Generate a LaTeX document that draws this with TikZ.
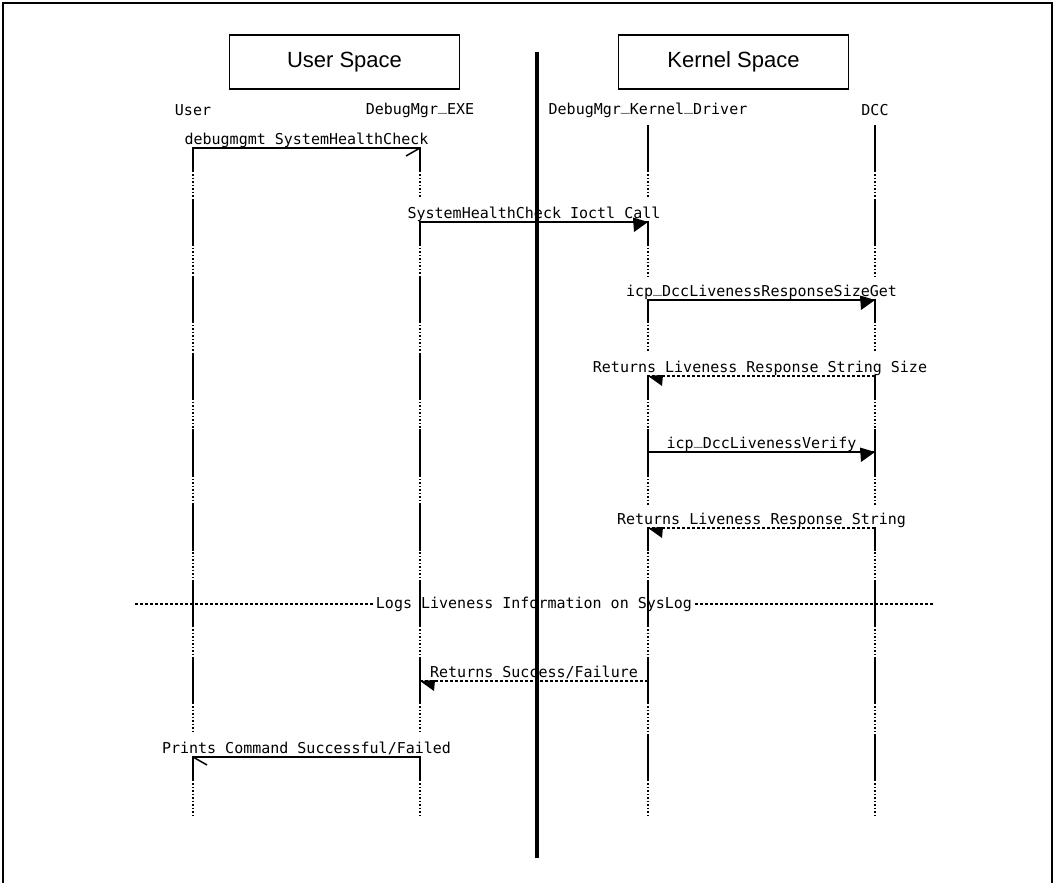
\documentclass[tikz,border=0pt]{standalone}
\usepackage{fontspec}
\setmainfont{Liberation Sans}
\newfontfamily\monof{DejaVu Sans Mono}
\newcommand\usc{\raisebox{0.22em}{\_}}
\begin{document}
\begin{tikzpicture}[x=1pt,y=-1pt,
  spacebox/.style={draw,line width=1.2pt,minimum width=230pt,minimum height=54pt,font=\fontsize{22}{22}\selectfont},
  head/.style={font=\monof\fontsize{15}{15}\selectfont,inner sep=0pt},
  lbl/.style={font=\monof\fontsize{15}{15}\selectfont,inner xsep=0pt,inner ysep=0pt,text height=19pt,text depth=3pt,anchor=base,fill=white},
  dotline/.style={line width=1.2pt,dash pattern=on 1.5pt off 2pt},
  solidline/.style={line width=1.5pt},
  msg/.style={line width=1.5pt},
  ret/.style={line width=1.2pt,dash pattern=on 3pt off 2pt},
  frame/.style={line width=2pt}]
\useasboundingbox (0,0) rectangle (1055,883);
% frame
\draw[frame] (3,883) -- (3,3) -- (1052,3) -- (1052,883);
% boxes
\node[spacebox] (us) at (344.5,62) {User Space};
\node[spacebox] (ks) at (733.5,62) {Kernel Space};
% heads
\node[head] (uH) at (193,110) {User};
\node[head] (eH) at (420,110) {DebugMgr\usc EXE};
\node[head] (kH) at (648,110) {DebugMgr\usc Kernel\usc Driver};
\node[head] (dH) at (875,110) {DCC};
% divider (drawn below the lifelines)
\coordinate (dvL) at (135,604);
\coordinate (dvR) at (933,604);
\draw[ret] (dvL) -- (dvR);
\node[lbl,anchor=center,text height=11pt,text depth=3pt,inner xsep=2pt,inner ysep=1pt] (l7) at (534,604) {Logs Liveness Information on SysLog};
% lifelines
\foreach \n/\x in {u/193,e/420,k/648,d/875}{
  \coordinate (\n T) at (\x,125);
  \coordinate (\n B) at (\x,815);
  \draw[dotline] (\n T) -- (\n B);
  \foreach \y in {148,222,300,376,452,528,604,681,757}{
    \draw[solidline] (\x,\y-23) -- (\x,\y+23);
  }
}
% message coordinates
\coordinate (m1s) at (193,148); \coordinate (m1e) at (420,148);
\coordinate (m2s) at (420,222); \coordinate (m2e) at (648,222);
\coordinate (m3s) at (648,300); \coordinate (m3e) at (875,300);
\coordinate (m4s) at (875,376); \coordinate (m4e) at (648,376);
\coordinate (m5s) at (648,452); \coordinate (m5e) at (875,452);
\coordinate (m6s) at (875,528); \coordinate (m6e) at (648,528);
\coordinate (m8s) at (648,681); \coordinate (m8e) at (420,681);
\coordinate (m9s) at (420,757); \coordinate (m9e) at (193,757);
% labels (white background hides the lifelines behind them)
\node[lbl] (l1) at (306.5,144) {debugmgmt SystemHealthCheck};
\node[lbl] (l2) at (534,218) {SystemHealthCheck Ioctl Call};
\node[lbl] (l3) at (761.5,296) {icp\usc DccLivenessResponseSizeGet};
\node[lbl] (l4) at (760,372) {Returns Liveness Response String Size};
\node[lbl] (l5) at (761.5,448) {icp\usc DccLivenessVerify};
\node[lbl] (l6) at (761.5,524) {Returns Liveness Response String};
\node[lbl] (l8) at (534,677) {Returns Success/Failure};
\node[lbl] (l9) at (306.5,753) {Prints Command Successful/Failed};
% 1
\draw[msg] (m1s) -- (m1e);
\draw[msg,shift={(m1e)}] (0,0) -- (-14,8);
% 2
\draw[msg] (m2s) -- (m2e);
\fill[shift={(m2e)}] (0,0) -- (-15,-4.5) -- (-14,10) -- cycle;
% 3
\draw[msg] (m3s) -- (m3e);
\fill[shift={(m3e)}] (0,0) -- (-15,-4.5) -- (-14,10) -- cycle;
% 4
\draw[ret] (m4s) -- (m4e);
\fill[shift={(m4e)}] (0,0) -- (15,-1) -- (14,10) -- cycle;
% 5
\draw[msg] (m5s) -- (m5e);
\fill[shift={(m5e)}] (0,0) -- (-15,-4.5) -- (-14,10) -- cycle;
% 6
\draw[ret] (m6s) -- (m6e);
\fill[shift={(m6e)}] (0,0) -- (15,-1) -- (14,10) -- cycle;
% 8
\draw[ret] (m8s) -- (m8e);
\fill[shift={(m8e)}] (0,0) -- (15,-1) -- (14,10) -- cycle;
% 9
\draw[msg] (m9s) -- (m9e);
\draw[msg,shift={(m9e)}] (0,0) -- (14,8);
% divider bar
\coordinate (barT) at (537,52);
\coordinate (barB) at (537,858);
\draw[line width=4pt] (barT) -- (barB);
\end{tikzpicture}
\end{document}
